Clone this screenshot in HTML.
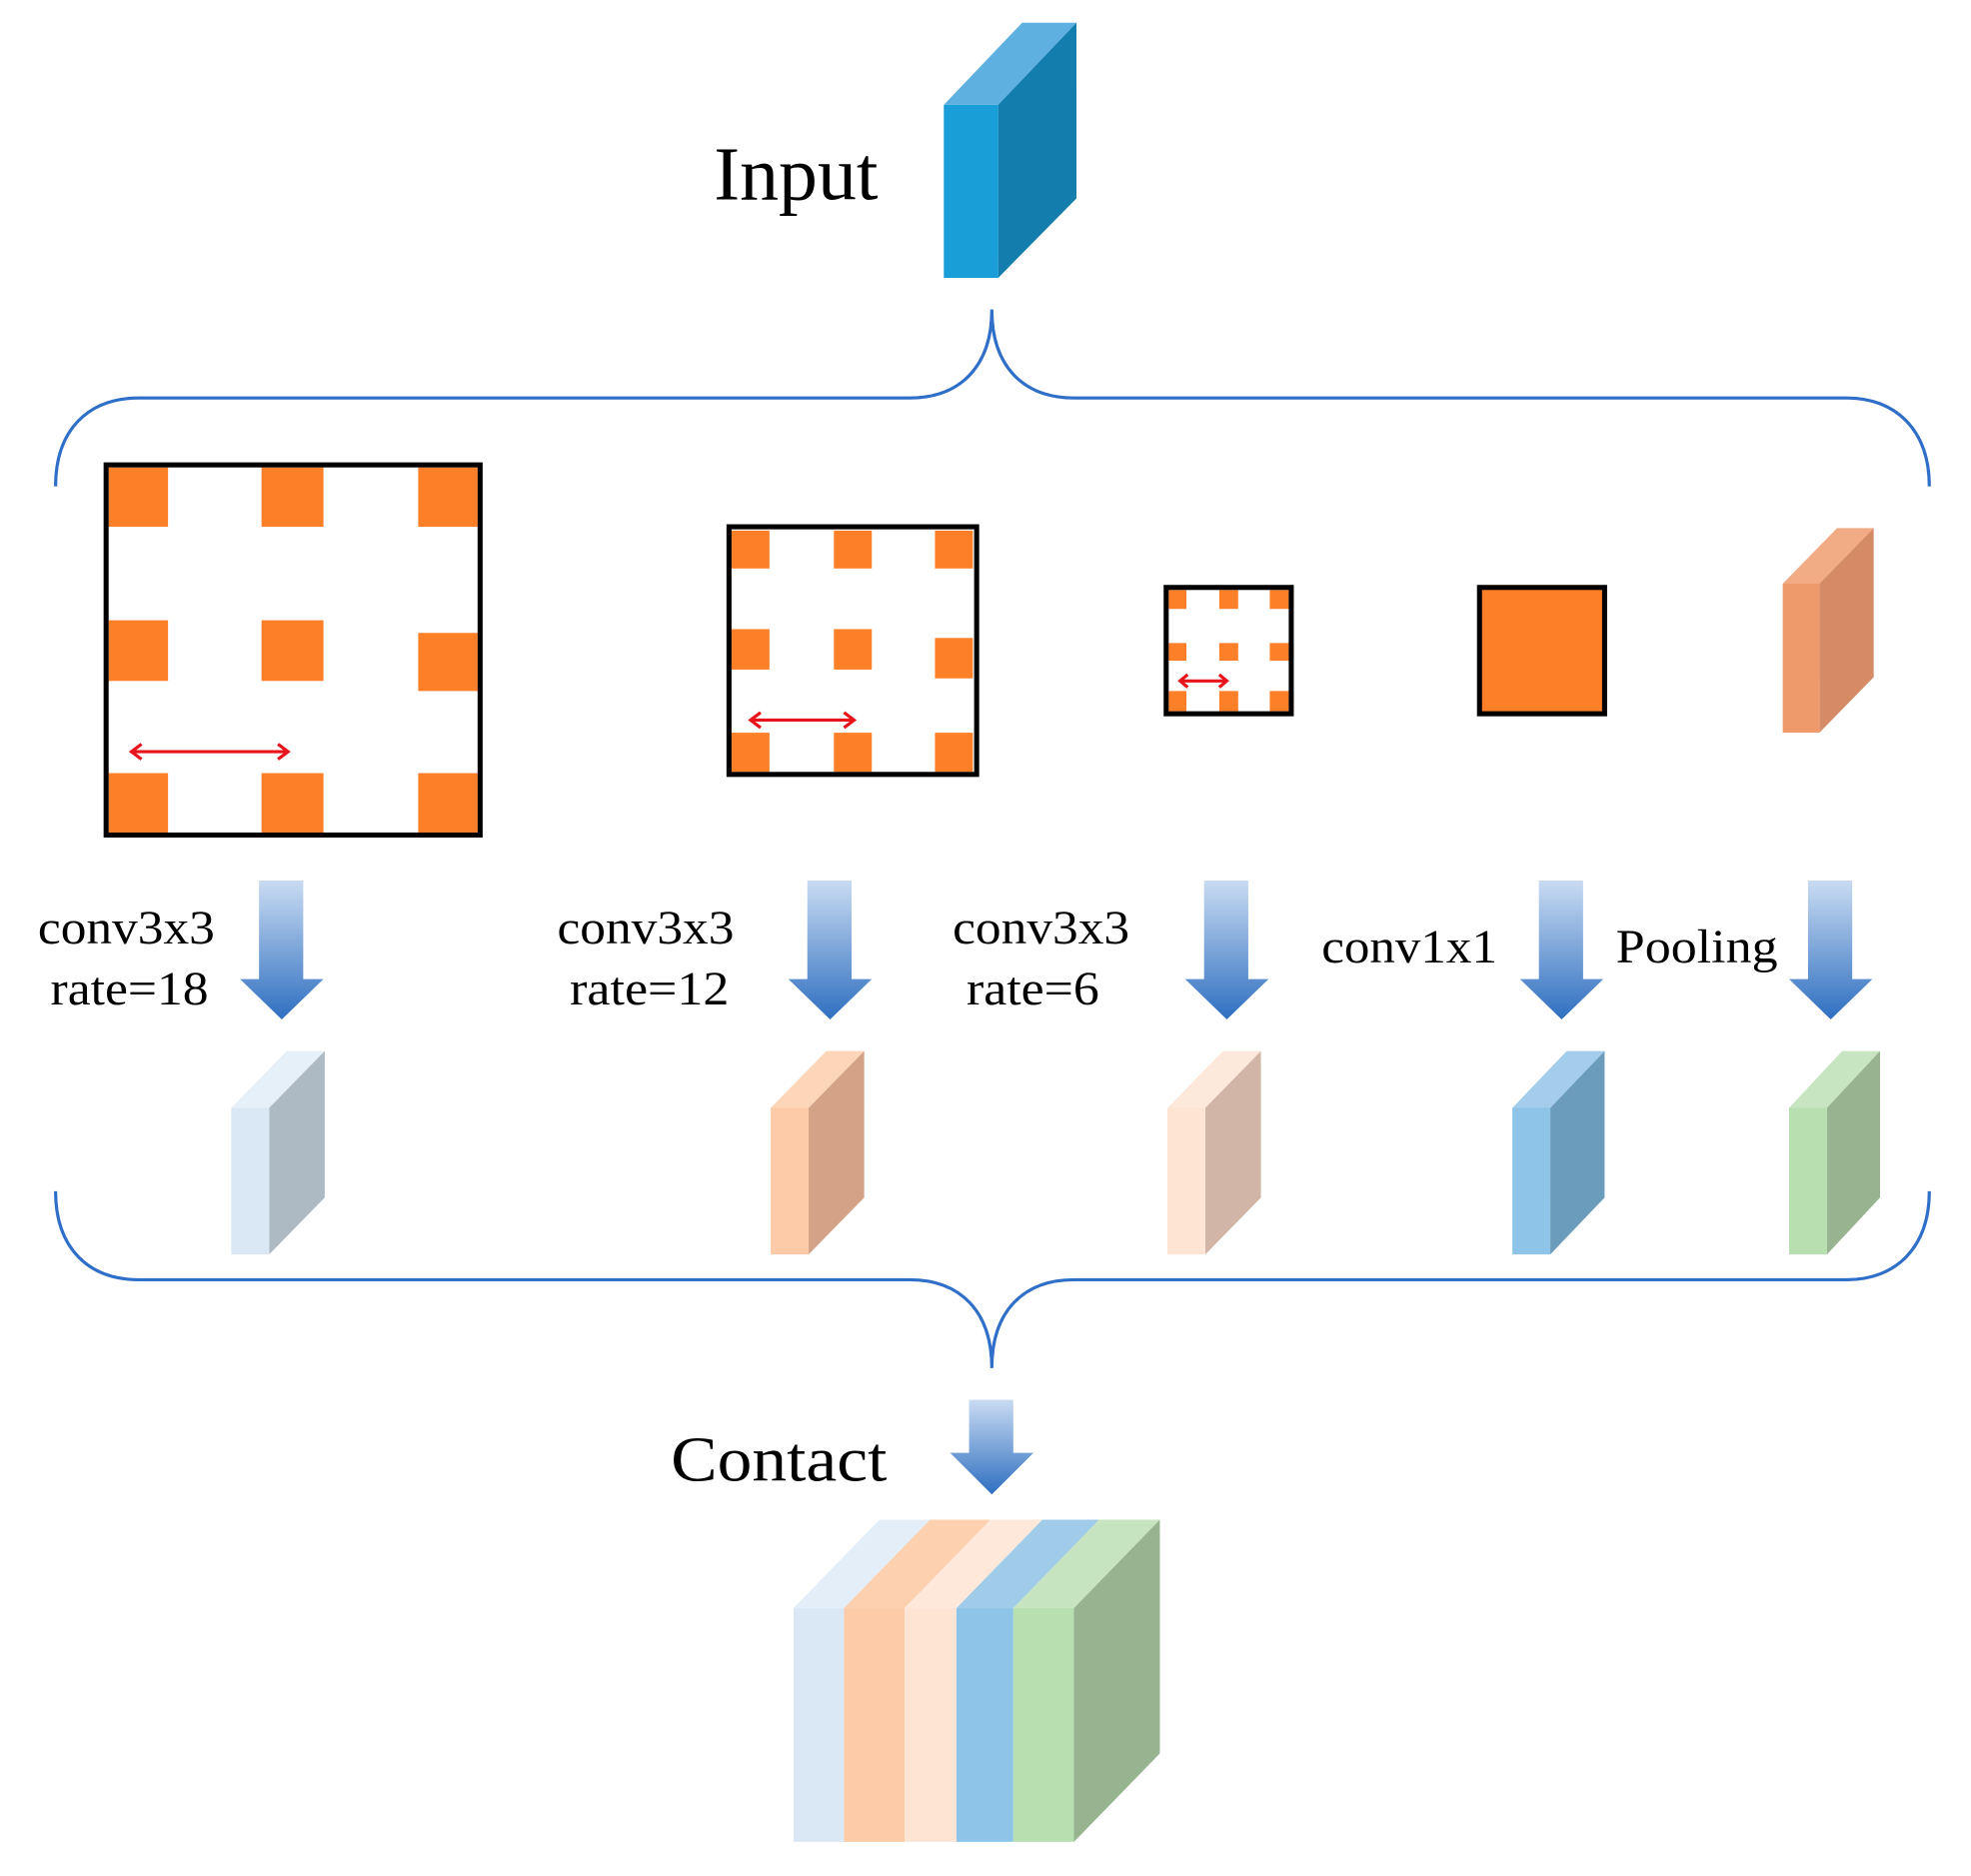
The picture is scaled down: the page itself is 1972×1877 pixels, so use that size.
<!DOCTYPE html>
<html><head><style>html,body{margin:0;padding:0;background:#fff}svg{display:block}</style></head>
<body>
<svg width="1972" height="1877" viewBox="0 0 1560 1485" preserveAspectRatio="none" xmlns="http://www.w3.org/2000/svg" font-family="Liberation Serif, serif">
<defs>
<linearGradient id="ag" x1="0" y1="0" x2="0" y2="1">
<stop offset="0" stop-color="#c9dbf2"/><stop offset="1" stop-color="#2f6fc0"/>
</linearGradient>
<g id="arr"><path d="M-18,0 H17 V78 H33 L0,110 L-33,78 H-18 Z" fill="url(#ag)"/></g>
<g id="arr2"><path d="M-18,0 H17 V42 H33 L0,75 L-33,42 H-18 Z" fill="url(#ag)"/></g>
</defs>
<rect width="1560" height="1485" fill="#fff"/>
<!-- Input cuboid -->
<polygon points="747,83 790,83 852,18 809,18" fill="#5eb0e0"/>
<polygon points="790,83 852,18 852,157 790,220" fill="#137eae"/>
<rect x="747" y="83" width="43" height="137" fill="#1a9ed8"/>
<text x="565" y="158" font-size="60" textLength="130" lengthAdjust="spacingAndGlyphs">Input</text>
<!-- braces -->
<g fill="none" stroke="#2f6fc8" stroke-width="2.5">
<path d="M44,385 C44,340 70,315 110,315 L720,315 C760,315 785,290 785,245 C785,290 810,315 850,315 L1462,315 C1500,315 1527,340 1527,385"/>
<path d="M44,943 C44,988 70,1013 110,1013 L720,1013 C760,1013 785,1038 785,1083 C785,1038 810,1013 850,1013 L1462,1013 C1500,1013 1527,988 1527,943"/>
</g>
<!-- box 1 -->
<g fill="#fd7f28">
<rect x="86" y="370" width="47" height="47"/><rect x="207" y="370" width="49" height="47"/><rect x="331" y="370" width="47" height="47"/>
<rect x="86" y="491" width="47" height="48"/><rect x="207" y="491" width="49" height="48"/><rect x="331" y="501" width="47" height="46"/>
<rect x="86" y="612" width="47" height="47"/><rect x="207" y="612" width="49" height="47"/><rect x="331" y="612" width="47" height="47"/>
</g>
<rect x="84" y="368" width="296" height="293" fill="none" stroke="#000" stroke-width="4"/>
<!-- box 2 -->
<g fill="#fd7f28">
<rect x="579" y="420" width="30" height="30"/><rect x="660" y="420" width="30" height="30"/><rect x="740" y="420" width="30" height="30"/>
<rect x="579" y="498" width="30" height="32"/><rect x="660" y="498" width="30" height="32"/><rect x="740" y="505" width="30" height="32"/>
<rect x="579" y="580" width="30" height="31"/><rect x="660" y="580" width="30" height="31"/><rect x="740" y="580" width="30" height="31"/>
</g>
<rect x="577" y="417" width="196" height="196" fill="none" stroke="#000" stroke-width="4"/>
<!-- box 3 -->
<g fill="#fd7f28">
<rect x="925" y="467" width="14" height="15"/><rect x="965" y="467" width="15" height="15"/><rect x="1005" y="467" width="15" height="15"/>
<rect x="925" y="509" width="14" height="14"/><rect x="965" y="509" width="15" height="14"/><rect x="1005" y="509" width="15" height="14"/>
<rect x="925" y="547" width="14" height="16"/><rect x="965" y="547" width="15" height="16"/><rect x="1005" y="547" width="15" height="16"/>
</g>
<rect x="923" y="465" width="99" height="100" fill="none" stroke="#000" stroke-width="4"/>
<!-- box 4 -->
<rect x="1171" y="465" width="99" height="100" fill="#fd7f28" stroke="#000" stroke-width="4"/>
<!-- red arrows -->
<g stroke="#e8141b" stroke-width="2.5" fill="none">
<line x1="104" y1="595" x2="228" y2="595"/><path d="M112,589 L104,595 L112,601 M220,589 L228,595 L220,601"/>
<line x1="594" y1="570" x2="676" y2="570"/><path d="M602,564 L594,570 L602,576 M668,564 L676,570 L668,576"/>
<line x1="934" y1="539" x2="971" y2="539"/><path d="M940,534 L934,539 L940,544 M965,534 L971,539 L965,544"/>
</g>
<!-- orange cuboid -->
<polygon points="1411,462 1440,462 1483,418 1454,418" fill="#f1ab85"/>
<polygon points="1440,462 1483,418 1483,536 1440,580" fill="#d58b65"/>
<rect x="1411" y="462" width="29" height="118" fill="#ef9a6b"/>
<!-- arrows -->
<use href="#arr" x="223" y="697"/><use href="#arr" x="657" y="697"/><use href="#arr" x="971" y="697"/><use href="#arr" x="1236" y="697"/><use href="#arr" x="1449" y="697"/>
<use href="#arr2" x="785" y="1108"/>
<!-- labels -->
<g font-size="38">
<text x="30" y="747" textLength="140" lengthAdjust="spacingAndGlyphs">conv3x3</text>
<text x="40" y="795" textLength="125" lengthAdjust="spacingAndGlyphs">rate=18</text>
<text x="441" y="747" textLength="140" lengthAdjust="spacingAndGlyphs">conv3x3</text>
<text x="451" y="795" textLength="126" lengthAdjust="spacingAndGlyphs">rate=12</text>
<text x="754" y="747" textLength="140" lengthAdjust="spacingAndGlyphs">conv3x3</text>
<text x="765" y="795" textLength="105" lengthAdjust="spacingAndGlyphs">rate=6</text>
<text x="1046" y="762" textLength="139" lengthAdjust="spacingAndGlyphs">conv1x1</text>
<text x="1279" y="762" textLength="128" lengthAdjust="spacingAndGlyphs">Pooling</text>
</g>
<!-- small cuboids -->
<g>
<polygon points="183,877 213,877 257,832 227,832" fill="#e6f0f9"/><polygon points="213,877 257,832 257,948 213,993" fill="#adbac4"/><rect x="183" y="877" width="30" height="116" fill="#dae8f5"/>
<polygon points="610,877 640,877 684,832 654,832" fill="#fdd5b8"/><polygon points="640,877 684,832 684,948 640,993" fill="#d4a387"/><rect x="610" y="877" width="30" height="116" fill="#fdcba8"/>
<polygon points="924,877 954,877 998,832 968,832" fill="#fde9dc"/><polygon points="954,877 998,832 998,948 954,993" fill="#d1b6a7"/><rect x="924" y="877" width="30" height="116" fill="#fde4d3"/>
<polygon points="1197,877 1227,877 1270,832 1240,832" fill="#a3cdea"/><polygon points="1227,877 1270,832 1270,948 1227,993" fill="#6b9cbb"/><rect x="1197" y="877" width="30" height="116" fill="#8ec4e8"/>
<polygon points="1416,877 1446,877 1488,832 1458,832" fill="#c7e5c0"/><polygon points="1446,877 1488,832 1488,948 1446,993" fill="#97b38f"/><rect x="1416" y="877" width="30" height="116" fill="#b7dfb0"/>
</g>
<text x="531" y="1172" font-size="50" textLength="171" lengthAdjust="spacingAndGlyphs">Contact</text>
<!-- final block -->
<polygon points="628,1273 668,1273 736,1203 696,1203" fill="#e3eef8"/>
<polygon points="668,1273 716,1273 784,1203 736,1203" fill="#fdd0b0"/>
<polygon points="716,1273 757,1273 825,1203 784,1203" fill="#fde8da"/>
<polygon points="757,1273 802,1273 870,1203 825,1203" fill="#a0cbe9"/>
<polygon points="802,1273 850,1273 918,1203 870,1203" fill="#c6e4bf"/>
<polygon points="850,1273 918,1203 918,1388 850,1458" fill="#97b38f"/>
<rect x="628" y="1273" width="40" height="185" fill="#dae8f5"/>
<rect x="668" y="1273" width="48" height="185" fill="#fdcba8"/>
<rect x="716" y="1273" width="41" height="185" fill="#fde4d3"/>
<rect x="757" y="1273" width="45" height="185" fill="#8ec4e8"/>
<rect x="802" y="1273" width="48" height="185" fill="#b7dfb0"/>
</svg>
</body></html>
